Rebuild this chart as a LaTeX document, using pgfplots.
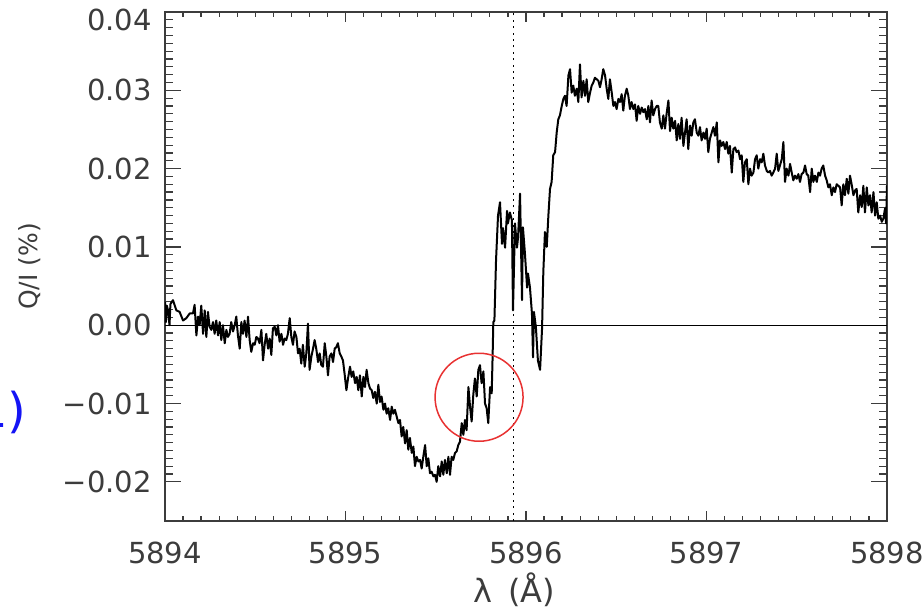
\documentclass[border=0pt]{standalone}
\usepackage{fontspec}
\setmainfont{DejaVu Sans}
\usepackage{pgfplots}
\pgfplotsset{compat=1.18}
\definecolor{ringred}{RGB}{232,50,50}
\definecolor{inkgray}{RGB}{60,60,60}
\definecolor{noteblue}{RGB}{20,20,245}
\newcommand{\lblfont}{\fontsize{14.5}{17}\selectfont}
\begin{document}
\begin{tikzpicture}
\begin{axis}[
  scale only axis,
  width=361pt, height=254.5pt,
  xmin=5894, xmax=5898,
  ymin=-0.025, ymax=0.04,
  xtick={5894,5895,5896,5897,5898},
  xticklabels={5894,5895,5896,5897,5898},
  ytick={-0.02,-0.01,0,0.01,0.02,0.03,0.04},
  yticklabels={−0.02,−0.01,0.00,0.01,0.02,0.03,\raisebox{-4pt}[\height][0pt]{0.04}},
  minor x tick num=9,
  minor y tick num=9,
  tick align=inside,
  x tick style={/pgfplots/major tick length=5pt,/pgfplots/minor tick length=2.5pt},
  y tick style={/pgfplots/major tick length=8pt,/pgfplots/minor tick length=4pt},
  every tick/.append style={inkgray, line width=0.6pt},
  axis line style={inkgray, line width=0.8pt},
  tick label style={font=\lblfont, text=inkgray},
  xticklabel style={anchor=center, inner sep=0pt, yshift=-16pt},
  yticklabel style={anchor=east, inner sep=0pt, xshift=-6.5pt},
  every axis x label/.style={at={(rel axis cs:0.5,0)}, xshift=-6pt, yshift=-34.5pt, anchor=center, font=\fontsize{16}{19}\selectfont, text=inkgray},
  every axis y label/.style={at={(rel axis cs:0,0.5)}, xshift=-67.5pt, rotate=90, anchor=center, font=\fontsize{12.5}{15}\selectfont, text=inkgray},
  xlabel={λ\hspace{0.5em}(Å)},
  ylabel={Q/I (\%)},
]
% zero level
\addplot[black, line width=0.7pt] coordinates {(5894,0) (5898,0)};
% rest wavelength of Na I D1
\addplot[black, line width=0.6pt, dash pattern=on 1pt off 2.2pt] coordinates {(5895.93,-0.025) (5895.93,0.04)};
% fractional linear polarization Q/I
\addplot[black, line width=1pt, line join=round] coordinates {
(5894.000,0.0030) (5894.005,0.0004) (5894.010,0.0025) (5894.017,0.0019) (5894.025,0.0000)
(5894.030,0.0027) (5894.044,0.0032) (5894.063,0.0019) (5894.081,0.0017) (5894.100,0.0006)
(5894.118,0.0009) (5894.137,0.0015) (5894.155,0.0015) (5894.164,0.0026) (5894.174,-0.0013)
(5894.183,0.0011) (5894.192,0.0000) (5894.201,0.0025) (5894.211,-0.0011) (5894.220,0.0019)
(5894.229,-0.0015) (5894.238,0.0017) (5894.247,-0.0002) (5894.257,-0.0006) (5894.266,0.0004)
(5894.275,-0.0011) (5894.284,0.0006) (5894.294,-0.0013) (5894.303,0.0004) (5894.312,-0.0019)
(5894.321,0.0000) (5894.331,-0.0023) (5894.340,-0.0006) (5894.349,-0.0015) (5894.358,-0.0011)
(5894.367,0.0004) (5894.377,-0.0008) (5894.386,0.0000) (5894.395,0.0011) (5894.404,-0.0013)
(5894.414,-0.0030) (5894.423,0.0004) (5894.432,-0.0011) (5894.441,0.0006) (5894.451,-0.0015)
(5894.460,0.0011) (5894.469,-0.0019) (5894.478,-0.0034) (5894.488,-0.0023) (5894.497,-0.0025)
(5894.506,-0.0015) (5894.515,-0.0017) (5894.524,-0.0023) (5894.534,-0.0006) (5894.543,-0.0045)
(5894.552,-0.0025) (5894.561,-0.0011) (5894.571,-0.0030) (5894.580,-0.0017) (5894.589,-0.0038)
(5894.598,-0.0004) (5894.608,-0.0002) (5894.617,-0.0013) (5894.626,0.0000) (5894.635,-0.0021)
(5894.645,-0.0011) (5894.654,-0.0025) (5894.663,-0.0017) (5894.672,-0.0019) (5894.681,-0.0011)
(5894.691,0.0009) (5894.700,-0.0015) (5894.709,-0.0025) (5894.718,-0.0008) (5894.728,-0.0015)
(5894.737,-0.0036) (5894.746,-0.0030) (5894.755,-0.0049) (5894.764,-0.0025) (5894.774,-0.0053)
(5894.783,-0.0036) (5894.792,0.0002) (5894.801,-0.0057) (5894.811,-0.0040) (5894.820,-0.0030)
(5894.829,-0.0019) (5894.838,-0.0030) (5894.848,-0.0047) (5894.857,-0.0036) (5894.866,-0.0051)
(5894.875,-0.0053) (5894.885,-0.0023) (5894.894,-0.0040) (5894.903,-0.0064) (5894.912,-0.0040)
(5894.922,-0.0036) (5894.931,-0.0047) (5894.940,-0.0030) (5894.949,-0.0028) (5894.958,-0.0023)
(5894.968,-0.0036) (5894.977,-0.0040) (5894.986,-0.0045) (5894.995,-0.0062) (5895.005,-0.0083)
(5895.014,-0.0068) (5895.025,-0.0053) (5895.034,-0.0066) (5895.043,-0.0059) (5895.053,-0.0074)
(5895.062,-0.0066) (5895.071,-0.0083) (5895.080,-0.0064) (5895.090,-0.0091) (5895.099,-0.0066)
(5895.108,-0.0079) (5895.117,-0.0057) (5895.127,-0.0074) (5895.136,-0.0081) (5895.145,-0.0083)
(5895.154,-0.0093) (5895.163,-0.0085) (5895.173,-0.0100) (5895.182,-0.0076) (5895.191,-0.0098)
(5895.200,-0.0091) (5895.210,-0.0108) (5895.219,-0.0100) (5895.228,-0.0113) (5895.237,-0.0106)
(5895.247,-0.0121) (5895.256,-0.0104) (5895.265,-0.0113) (5895.274,-0.0108) (5895.284,-0.0117)
(5895.293,-0.0125) (5895.302,-0.0121) (5895.311,-0.0142) (5895.320,-0.0130) (5895.330,-0.0151)
(5895.339,-0.0134) (5895.348,-0.0159) (5895.357,-0.0144) (5895.367,-0.0163) (5895.376,-0.0155)
(5895.385,-0.0180) (5895.394,-0.0168) (5895.404,-0.0174) (5895.413,-0.0172) (5895.422,-0.0183)
(5895.431,-0.0168) (5895.441,-0.0153) (5895.450,-0.0180) (5895.459,-0.0170) (5895.468,-0.0189)
(5895.477,-0.0187) (5895.487,-0.0193) (5895.496,-0.0191) (5895.505,-0.0200) (5895.514,-0.0180)
(5895.524,-0.0193) (5895.533,-0.0174) (5895.542,-0.0191) (5895.551,-0.0172) (5895.561,-0.0189)
(5895.570,-0.0168) (5895.579,-0.0191) (5895.588,-0.0168) (5895.597,-0.0172) (5895.607,-0.0163)
(5895.616,-0.0161) (5895.625,-0.0153) (5895.634,-0.0149) (5895.644,-0.0125) (5895.653,-0.0140)
(5895.662,-0.0121) (5895.671,-0.0134) (5895.681,-0.0079) (5895.690,-0.0104) (5895.699,-0.0123)
(5895.708,-0.0089) (5895.717,-0.0068) (5895.727,-0.0091) (5895.736,-0.0057) (5895.745,-0.0051)
(5895.754,-0.0074) (5895.764,-0.0059) (5895.773,-0.0100) (5895.782,-0.0106) (5895.791,-0.0125)
(5895.801,-0.0079) (5895.810,-0.0087) (5895.815,-0.0040) (5895.819,0.0004) (5895.825,0.0006)
(5895.834,0.0083) (5895.845,0.0140) (5895.856,0.0157) (5895.867,0.0104) (5895.873,0.0124)
(5895.884,0.0099) (5895.895,0.0146) (5895.900,0.0130) (5895.911,0.0144) (5895.922,0.0134)
(5895.928,0.0019) (5895.939,0.0130) (5895.950,0.0099) (5895.956,0.0112) (5895.967,0.0168)
(5895.978,0.0032) (5895.983,0.0125) (5895.994,0.0092) (5896.006,0.0048) (5896.011,0.0066)
(5896.022,0.0048) (5896.033,0.0015) (5896.039,-0.0041) (5896.044,0.0017) (5896.055,-0.0003)
(5896.066,-0.0045) (5896.078,-0.0057) (5896.089,-0.0004) (5896.096,0.0068) (5896.105,0.0119)
(5896.115,0.0100) (5896.124,0.0140) (5896.133,0.0174) (5896.142,0.0183) (5896.151,0.0217)
(5896.161,0.0221) (5896.170,0.0246) (5896.179,0.0263) (5896.188,0.0268) (5896.198,0.0280)
(5896.207,0.0289) (5896.216,0.0293) (5896.225,0.0280) (5896.235,0.0319) (5896.244,0.0327)
(5896.253,0.0297) (5896.262,0.0306) (5896.271,0.0293) (5896.281,0.0302) (5896.290,0.0285)
(5896.299,0.0333) (5896.308,0.0291) (5896.318,0.0312) (5896.327,0.0293) (5896.336,0.0314)
(5896.345,0.0285) (5896.355,0.0297) (5896.364,0.0306) (5896.373,0.0310) (5896.382,0.0316)
(5896.392,0.0314) (5896.401,0.0312) (5896.410,0.0304) (5896.419,0.0314) (5896.428,0.0327)
(5896.438,0.0319) (5896.447,0.0302) (5896.456,0.0289) (5896.465,0.0314) (5896.475,0.0297)
(5896.484,0.0280) (5896.493,0.0285) (5896.502,0.0276) (5896.512,0.0289) (5896.521,0.0285)
(5896.530,0.0295) (5896.539,0.0274) (5896.548,0.0293) (5896.558,0.0302) (5896.567,0.0293)
(5896.576,0.0276) (5896.585,0.0285) (5896.595,0.0276) (5896.604,0.0282) (5896.613,0.0261)
(5896.622,0.0280) (5896.632,0.0270) (5896.641,0.0278) (5896.650,0.0272) (5896.659,0.0276)
(5896.669,0.0263) (5896.678,0.0280) (5896.687,0.0259) (5896.696,0.0287) (5896.705,0.0268)
(5896.715,0.0276) (5896.724,0.0280) (5896.733,0.0280) (5896.742,0.0259) (5896.752,0.0251)
(5896.761,0.0268) (5896.770,0.0251) (5896.779,0.0270) (5896.789,0.0287) (5896.798,0.0248)
(5896.807,0.0265) (5896.816,0.0251) (5896.826,0.0261) (5896.835,0.0236) (5896.844,0.0257)
(5896.853,0.0238) (5896.862,0.0265) (5896.872,0.0229) (5896.881,0.0246) (5896.890,0.0263)
(5896.899,0.0225) (5896.909,0.0255) (5896.918,0.0242) (5896.927,0.0259) (5896.936,0.0263)
(5896.946,0.0246) (5896.955,0.0242) (5896.964,0.0253) (5896.973,0.0236) (5896.983,0.0246)
(5896.992,0.0238) (5897.001,0.0251) (5897.010,0.0221) (5897.019,0.0238) (5897.029,0.0246)
(5897.038,0.0253) (5897.047,0.0242) (5897.057,0.0259) (5897.066,0.0208) (5897.075,0.0236)
(5897.084,0.0229) (5897.093,0.0234) (5897.103,0.0225) (5897.112,0.0234) (5897.121,0.0219)
(5897.130,0.0229) (5897.140,0.0195) (5897.149,0.0225) (5897.158,0.0227) (5897.167,0.0221)
(5897.177,0.0223) (5897.186,0.0212) (5897.195,0.0217) (5897.204,0.0183) (5897.213,0.0208)
(5897.223,0.0212) (5897.232,0.0180) (5897.241,0.0200) (5897.250,0.0191) (5897.260,0.0195)
(5897.269,0.0212) (5897.278,0.0217) (5897.287,0.0200) (5897.297,0.0212) (5897.306,0.0208)
(5897.315,0.0219) (5897.324,0.0204) (5897.334,0.0197) (5897.343,0.0195) (5897.352,0.0197)
(5897.361,0.0191) (5897.370,0.0195) (5897.380,0.0200) (5897.389,0.0219) (5897.398,0.0197)
(5897.407,0.0204) (5897.417,0.0212) (5897.426,0.0234) (5897.435,0.0183) (5897.444,0.0200)
(5897.454,0.0191) (5897.463,0.0206) (5897.472,0.0195) (5897.481,0.0185) (5897.490,0.0191)
(5897.500,0.0187) (5897.509,0.0193) (5897.518,0.0183) (5897.527,0.0193) (5897.537,0.0195)
(5897.546,0.0204) (5897.555,0.0193) (5897.564,0.0191) (5897.574,0.0170) (5897.583,0.0200)
(5897.592,0.0183) (5897.601,0.0191) (5897.611,0.0183) (5897.620,0.0195) (5897.629,0.0191)
(5897.638,0.0200) (5897.647,0.0204) (5897.657,0.0191) (5897.666,0.0185) (5897.675,0.0176)
(5897.684,0.0180) (5897.694,0.0166) (5897.703,0.0176) (5897.712,0.0170) (5897.721,0.0180)
(5897.731,0.0178) (5897.740,0.0176) (5897.749,0.0153) (5897.758,0.0180) (5897.767,0.0166)
(5897.777,0.0187) (5897.786,0.0168) (5897.795,0.0191) (5897.804,0.0180) (5897.814,0.0166)
(5897.823,0.0172) (5897.832,0.0174) (5897.841,0.0144) (5897.851,0.0166) (5897.860,0.0151)
(5897.869,0.0178) (5897.878,0.0144) (5897.888,0.0176) (5897.897,0.0153) (5897.906,0.0166)
(5897.915,0.0144) (5897.925,0.0170) (5897.934,0.0140) (5897.943,0.0157) (5897.952,0.0136)
(5897.962,0.0140) (5897.971,0.0132) (5897.980,0.0136) (5897.989,0.0149) (5897.995,0.0130)
(5898.000,0.0178) (5898.000,0.0130)
};
% ring marking the blue-wing feature
\draw[ringred, line width=0.75pt] (axis cs:5895.74,-0.0092) circle[radius=22pt];
\end{axis}
% neighbouring slide caption
\node[text=noteblue, font=\fontsize{24}{28}\selectfont, anchor=east, inner sep=0pt]
  at ([xshift=-69pt,yshift=-73pt]current axis.west) {1)};
\pgfresetboundingbox
\path[use as bounding box] ([shift={(-82.5pt,-44.5pt)}]current axis.south west) rectangle ([shift={(18pt,6pt)}]current axis.north east);
\end{tikzpicture}
\end{document}
